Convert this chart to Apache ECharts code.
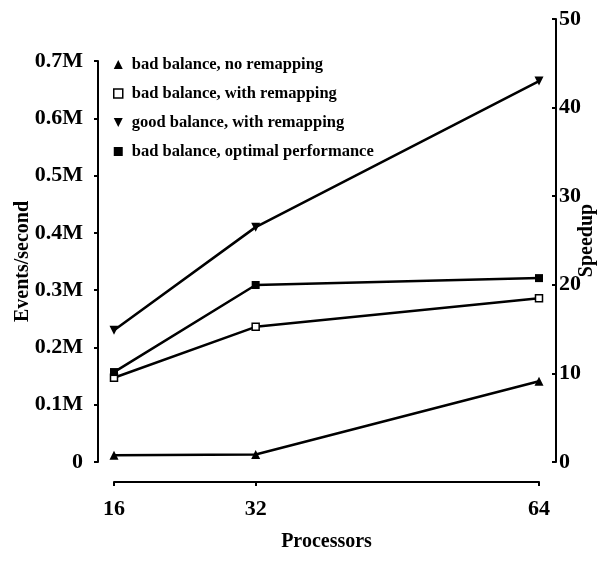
<!DOCTYPE html>
<html>
<head>
<meta charset="utf-8">
<script src="https://cdn.jsdelivr.net/npm/echarts@6/dist/echarts.min.js"></script>
<style>html,body{margin:0;padding:0;background:#fff}#c{width:604px;height:562px}</style>
</head>
<body>
<div id="c"></div>
<script>
const processors = [16, 32, 64];
const xTicks = [16, 32, 64];
const leftTicks = [0, 0.1e6, 0.2e6, 0.3e6, 0.4e6, 0.5e6, 0.6e6, 0.7e6];
const rightTicks = [0, 10, 20, 30, 40, 50];
const seriesNames = [
  'bad balance, no remapping',
  'bad balance, with remapping',
  'good balance, with remapping',
  'bad balance, optimal performance'
];
const badNoRemap = [0.012e6, 0.013e6, 0.141e6];
const badRemap = [0.147e6, 0.236e6, 0.286e6];
const goodRemap = [0.230e6, 0.410e6, 0.665e6];
const badOptimal = [0.157e6, 0.309e6, 0.321e6];

const FONT = 'Liberation Serif';
const pairs = arr => processors.map((p, i) => [p, arr[i]]);
const downTri = 'path://M0,0 L10,0 L5,10 Z';

const chart = echarts.init(document.getElementById('c'), null, {renderer: 'canvas'});
const axisLbl = {color: '#000', fontFamily: FONT, fontWeight: 'bold', fontSize: 22};
chart.setOption({
  animation: false,
  backgroundColor: '#fff',
  grid: [
    {left: 114, right: 65, top: 61, bottom: 100, containLabel: false, outerBoundsMode: 'none'},
    {left: 114, right: 65, top: 19, bottom: 100, containLabel: false, outerBoundsMode: 'none'}
  ],
  legend: {
    orient: 'vertical', left: 108, top: 51,
    itemWidth: 9, itemHeight: 9, itemGap: 12,
    textStyle: {color: '#000', fontFamily: FONT, fontWeight: 'bold', fontSize: 16.5, padding: [0, 0, 0, 4]},
    data: [
      {name: seriesNames[0], icon: 'triangle', itemStyle: {color: '#000', borderWidth: 0}},
      {name: seriesNames[1], icon: 'rect', itemStyle: {color: '#fff', borderColor: '#000', borderWidth: 1.5}},
      {name: seriesNames[2], icon: downTri, itemStyle: {color: '#000', borderWidth: 0}},
      {name: seriesNames[3], icon: 'rect', itemStyle: {color: '#000', borderWidth: 0}}
    ]
  },
  xAxis: [
    {
      gridIndex: 0, type: 'value', min: 16, max: 64, interval: 16, offset: 20,
      name: 'Processors', nameLocation: 'middle', nameGap: 50, nameMoveOverlap: false,
      nameTextStyle: {color: '#000', fontFamily: FONT, fontWeight: 'bold', fontSize: 20},
      axisLine: {show: true, onZero: false, lineStyle: {color: '#000', width: 2}},
      axisTick: {show: true, customValues: xTicks, length: 4, lineStyle: {color: '#000', width: 2}},
      axisLabel: Object.assign({customValues: xTicks, margin: 16}, axisLbl),
      splitLine: {show: false}
    },
    {gridIndex: 1, type: 'value', min: 16, max: 64, show: false}
  ],
  yAxis: [
    {
      gridIndex: 0, type: 'value', position: 'left', min: 0, max: 0.7e6, interval: 0.1e6, offset: 16,
      name: 'Events/second', nameLocation: 'middle', nameGap: 65, nameRotate: 90, nameMoveOverlap: false,
      nameTextStyle: {color: '#000', fontFamily: FONT, fontWeight: 'bold', fontSize: 20},
      axisLine: {show: true, onZero: false, lineStyle: {color: '#000', width: 2}},
      axisTick: {show: true, customValues: leftTicks, length: 4, lineStyle: {color: '#000', width: 2}},
      axisLabel: Object.assign({margin: 15, customValues: leftTicks,
        formatter: v => v === 0 ? '0' : (v / 1e6).toFixed(1) + 'M'}, axisLbl),
      splitLine: {show: false}
    },
    {
      gridIndex: 1, type: 'value', position: 'right', min: 0, max: 50, interval: 10, offset: 17,
      name: 'Speedup', nameLocation: 'middle', nameGap: 21, nameRotate: 90, nameMoveOverlap: false,
      nameTextStyle: {color: '#000', fontFamily: FONT, fontWeight: 'bold', fontSize: 20},
      axisLine: {show: true, onZero: false, lineStyle: {color: '#000', width: 2}},
      axisTick: {show: true, customValues: rightTicks, inside: true, length: 4, lineStyle: {color: '#000', width: 2}},
      axisLabel: Object.assign({margin: 3, customValues: rightTicks}, axisLbl),
      splitLine: {show: false}
    }
  ],
  series: [
    {name: seriesNames[0], type: 'line', data: pairs(badNoRemap), symbol: 'triangle', symbolSize: 9,
     lineStyle: {color: '#000', width: 2.5}, itemStyle: {color: '#000'}},
    {name: seriesNames[1], type: 'line', data: pairs(badRemap), symbol: 'rect', symbolSize: 7,
     lineStyle: {color: '#000', width: 2.5}, itemStyle: {color: '#fff', borderColor: '#000', borderWidth: 1.5}},
    {name: seriesNames[2], type: 'line', data: pairs(goodRemap), symbol: downTri, symbolSize: 9,
     lineStyle: {color: '#000', width: 2.5}, itemStyle: {color: '#000'}},
    {name: seriesNames[3], type: 'line', data: pairs(badOptimal), symbol: 'rect', symbolSize: 8,
     lineStyle: {color: '#000', width: 2.5}, itemStyle: {color: '#000'}}
  ]
});
</script>
</body>
</html>
